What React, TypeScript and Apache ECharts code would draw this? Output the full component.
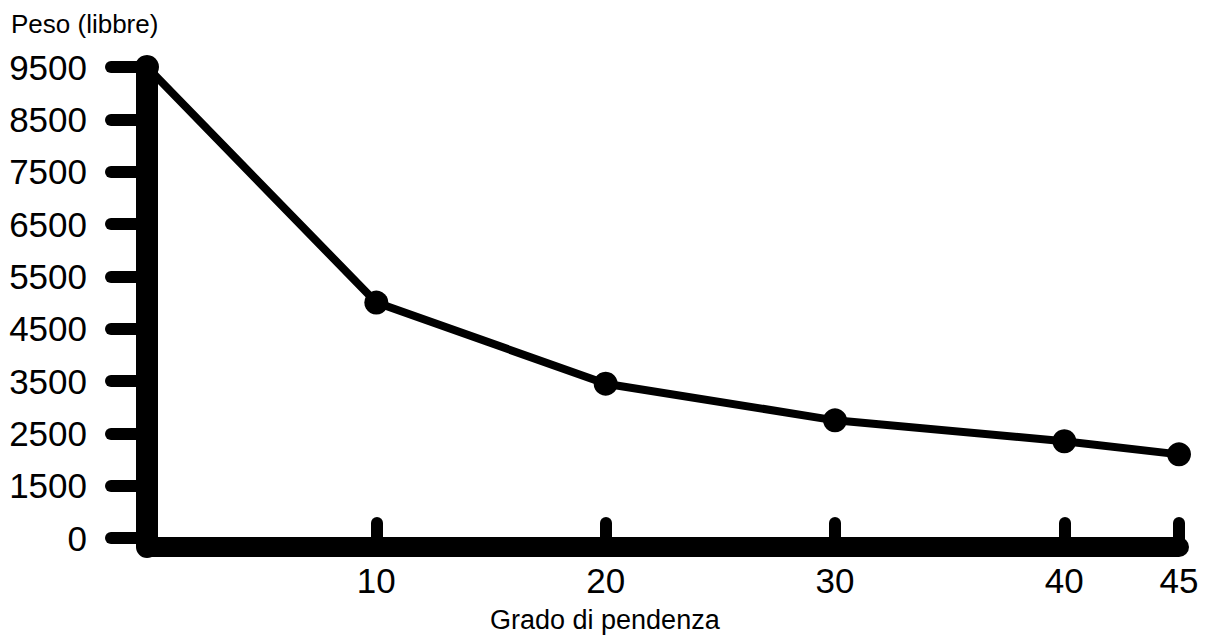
import React, { useEffect, useRef } from "react";
import * as echarts from "echarts";

const slopeDegrees = [0, 10, 20, 30, 40, 45];
const weightPounds = [9500, 5000, 3450, 2750, 2350, 2100];
const xTickValues = [10, 20, 30, 40, 45];
const yTickValues = [500, 1500, 2500, 3500, 4500, 5500, 6500, 7500, 8500, 9500];
const yTickLabels = ["0", "1500", "2500", "3500", "4500", "5500", "6500", "7500", "8500", "9500"];
const yAxisName = "Peso (libbre)";
const xAxisName = "Grado di pendenza";

const FONT = '"Liberation Sans", Arial, Helvetica, sans-serif';

export default function App() {
  const ref = useRef<HTMLDivElement>(null);
  useEffect(() => {
    if (!ref.current) return;
    const chart = echarts.init(ref.current, null, { renderer: "svg" });
    const data = slopeDegrees.map((x, i) => [x, weightPounds[i]]);
    chart.setOption({
      animation: false,
      backgroundColor: "#ffffff",
      grid: { left: 147, right: 33, top: 67, bottom: 95, outerBoundsMode: "none" },
      xAxis: {
        type: "value",
        min: 0,
        max: 45,
        splitLine: { show: false },
        axisLine: { show: true, onZero: false, lineStyle: { color: "#000", width: 20, cap: "round" } },
        axisTick: {
          show: true,
          inside: true,
          length: 24,
          customValues: xTickValues,
          lineStyle: { color: "#000", width: 12, cap: "round" },
        },
        axisLabel: {
          customValues: xTickValues,
          margin: 16,
          color: "#000",
          fontSize: 35,
          fontFamily: FONT,
        },
      },
      yAxis: {
        type: "value",
        min: 330,
        max: 9500,
        splitLine: { show: false },
        axisLine: { show: true, onZero: false, lineStyle: { color: "#000", width: 22, cap: "round" } },
        axisTick: {
          show: true,
          length: 36,
          customValues: yTickValues,
          lineStyle: { color: "#000", width: 12, cap: "round" },
        },
        axisLabel: {
          customValues: yTickValues,
          margin: 60,
          color: "#000",
          fontSize: 35,
          fontFamily: FONT,
          formatter: (v: number) => {
            const i = yTickValues.indexOf(v);
            return i >= 0 ? yTickLabels[i] : "";
          },
        },
      },
      graphic: [
        {
          type: "text",
          left: 11,
          top: 11,
          style: { text: yAxisName, fontSize: 26, fontFamily: FONT, fill: "#000" },
        },
        {
          type: "text",
          left: 490,
          top: 606,
          style: { text: xAxisName, fontSize: 27, fontFamily: FONT, fill: "#000" },
        },
      ],
      series: [
        {
          type: "line",
          data,
          symbol: "circle",
          symbolSize: 24,
          itemStyle: { color: "#000" },
          lineStyle: { color: "#000", width: 8 },
        },
      ],
    });
    return () => chart.dispose();
  }, []);
  return (
    <div
      ref={ref}
      style={{ position: "absolute", left: 0, top: 0, width: 1212, height: 642 }}
    />
  );
}
